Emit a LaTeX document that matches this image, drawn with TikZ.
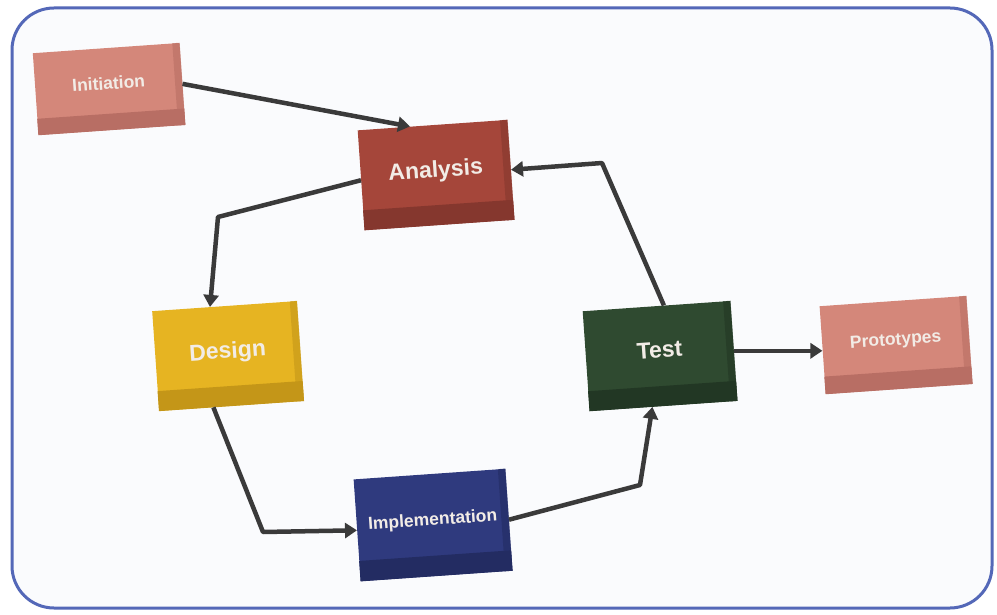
\documentclass[tikz,border=0pt]{standalone}
\usepackage{fontspec}
\setmainfont{Liberation Sans}
\usetikzlibrary{arrows.meta,calc}
\definecolor{framec}{HTML}{5468B8}
\definecolor{bgc}{HTML}{FAFBFD}
\definecolor{salmon}{HTML}{D4877A}
\definecolor{salmondk}{HTML}{B86E64}
\definecolor{rust}{HTML}{A5463A}
\definecolor{rustdk}{HTML}{85372E}
\definecolor{gold}{HTML}{E6B422}
\definecolor{golddk}{HTML}{C49618}
\definecolor{forest}{HTML}{2F4A30}
\definecolor{forestdk}{HTML}{223724}
\definecolor{navy}{HTML}{2F3A7E}
\definecolor{navydk}{HTML}{232C62}
\definecolor{arrc}{HTML}{3A3A3A}
\definecolor{labc}{HTML}{F2ECE6}
\newcommand\bandfor[2]{%
  \fill[#2] (#1.south west) -- (#1.south east) -- ($(#1.south east)!0.2!(#1.north east)$) -- ($(#1.south west)!0.2!(#1.north west)$) -- cycle;
  \fill[#2,opacity=0.6] (#1.north east) -- (#1.south east) -- ($(#1.south east)!0.05!(#1.south west)$) -- ($(#1.north east)!0.05!(#1.north west)$) -- cycle;}
\tikzset{
  blk/.style={inner sep=0pt, rotate=4, text=labc, text depth=12pt},
  bigtxt/.style={font=\bfseries\fontsize{23}{25}\selectfont},
  smalltxt/.style={font=\bfseries\fontsize{17.5}{19}\selectfont},
  arr/.style={draw=arrc, line width=4.5pt, line join=round, -{Triangle[length=12pt,width=15pt]}},
}
\begin{document}
\begin{tikzpicture}[x=1pt,y=-1pt]
\useasboundingbox (0,0) rectangle (997,615);
\fill[white] (0,0) rectangle (997,615);
\draw[framec, line width=3pt, fill=bgc, rounded corners=42pt] (12,8) rectangle (992,608);

\node[blk, smalltxt, fill=salmon, minimum width=147pt, minimum height=82pt] (ini) at (109,89) {Initiation};
\bandfor{ini}{salmondk}
\node[blk, bigtxt, fill=rust, minimum width=150pt, minimum height=100pt] (ana) at (436,175) {Analysis};
\bandfor{ana}{rustdk}
\node[blk, bigtxt, fill=gold, minimum width=145pt, minimum height=100pt] (des) at (228,356) {Design};
\bandfor{des}{golddk}
\node[blk, bigtxt, fill=forest, minimum width=148pt, minimum height=100pt] (tst) at (660,356) {Test};
\bandfor{tst}{forestdk}
\node[blk, smalltxt, fill=salmon, minimum width=147pt, minimum height=88pt] (pro) at (896,345) {Prototypes};
\bandfor{pro}{salmondk}
\node[blk, smalltxt, fill=navy, minimum width=152pt, minimum height=102pt] (imp) at (433,525) {Implementation};
\bandfor{imp}{navydk}

\coordinate (b1) at (218,217);
\coordinate (b2) at (263,532);
\coordinate (b3) at (640,485);
\coordinate (b4) at (602,163);

\draw[arr] (ini.east) -- ($(ana.north)!0.3!(ana.north west)$);
\draw[arr] (ana.west) -- (b1) -- ($(des.north)!0.2!(des.north west)$);
\draw[arr] ($(des.south)!0.25!(des.south west)$) -- (b2) -- (imp.west);
\draw[arr] (imp.east) -- (b3) -- ($(tst.south)!0.15!(tst.south west)$);
\draw[arr] ($(tst.north)!0.1!(tst.north east)$) -- (b4) -- (ana.east);
\draw[arr] (tst.east) -- (tst.east -| pro.west);
\end{tikzpicture}
\end{document}
